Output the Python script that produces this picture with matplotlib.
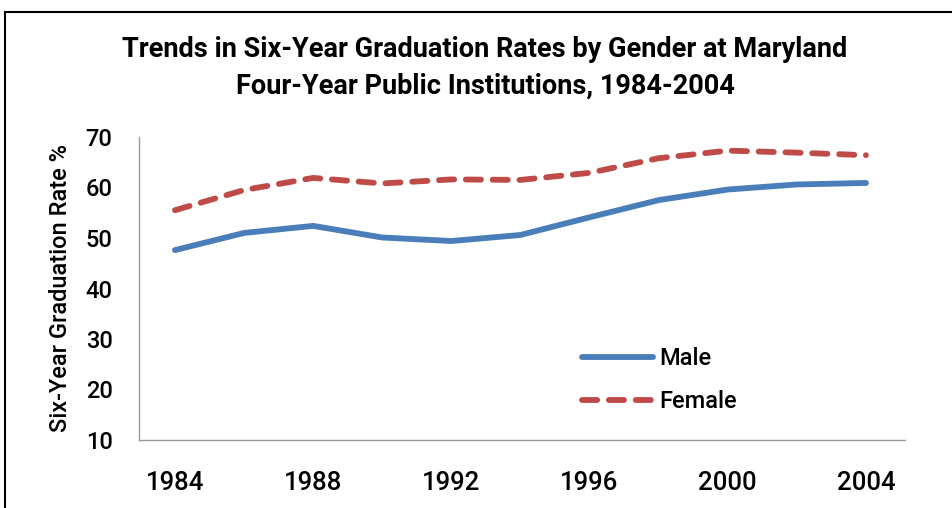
import matplotlib
matplotlib.use("Agg")
import matplotlib.pyplot as plt
from matplotlib.lines import Line2D

years = [1984, 1986, 1988, 1990, 1992, 1994, 1996, 1998, 2000, 2002, 2004]
male = [47.6, 51.0, 52.4, 50.1, 49.4, 50.6, 54.1, 57.5, 59.6, 60.6, 60.9]
female = [55.5, 59.5, 61.9, 60.8, 61.6, 61.5, 62.9, 65.8, 67.3, 66.9, 66.4]
xticks = [1984, 1988, 1992, 1996, 2000, 2004]
yticks = [10, 20, 30, 40, 50, 60, 70]
title = "Trends in Six-Year Graduation Rates by Gender at Maryland\nFour-Year Public Institutions, 1984-2004"
ylabel = "Six-Year Graduation Rate %"

fam = ["Roboto", "DejaVu Sans"]

fig = plt.figure(figsize=(9.53, 5.08), dpi=100)
ax = fig.add_axes([139/953, 1-440/508, (905-139)/953, (440-137)/508])

ax.plot(years, male, color="#4A7EBB", lw=4.2, solid_capstyle="round", label="Male")
ax.plot(years, female, color="#BE4B48", lw=4.2, dashes=(2.6, 2.0), dash_capstyle="round", label="Female")

ax.set_xlim(1982.96, 2005.13)
ax.set_ylim(10, 70)
ax.set_xticks(xticks)
ax.set_yticks(yticks)
ax.set_xticklabels([str(x) for x in xticks], fontsize=18.5, family=fam, fontweight="medium")
ax.set_yticklabels([str(y) for y in yticks], fontsize=17, family=fam, fontweight="medium")
ax.tick_params(axis="both", length=0)
ax.tick_params(axis="x", pad=22)
ax.tick_params(axis="y", pad=19)
for s in ["top", "right"]:
    ax.spines[s].set_visible(False)
for s in ["left", "bottom"]:
    ax.spines[s].set_color("#9A9A9A")
    ax.spines[s].set_linewidth(1.0)

ax.set_ylabel(ylabel, fontsize=17, family=fam, fontweight="medium", labelpad=10)

fig.text(485/953, 1-68/508, title, ha="center", va="center", fontsize=19.5,
         fontweight="bold", family=fam, linespacing=1.45)

leg = ax.legend(loc="upper left", bbox_to_anchor=((561-139)/766, (440-326)/303),
                frameon=False, prop={"family": fam, "size": 17, "weight": "medium"},
                handlelength=3.0, handletextpad=0.25, labelspacing=0.85)

# outer border (left and top edges)
fig.add_artist(Line2D([5/953, 5/953], [0, 1-12/508], transform=fig.transFigure, color="black", lw=1.5))
fig.add_artist(Line2D([5/953, 1], [1-12/508, 1-12/508], transform=fig.transFigure, color="black", lw=1.5))

fig.savefig("out.png", dpi=100)
